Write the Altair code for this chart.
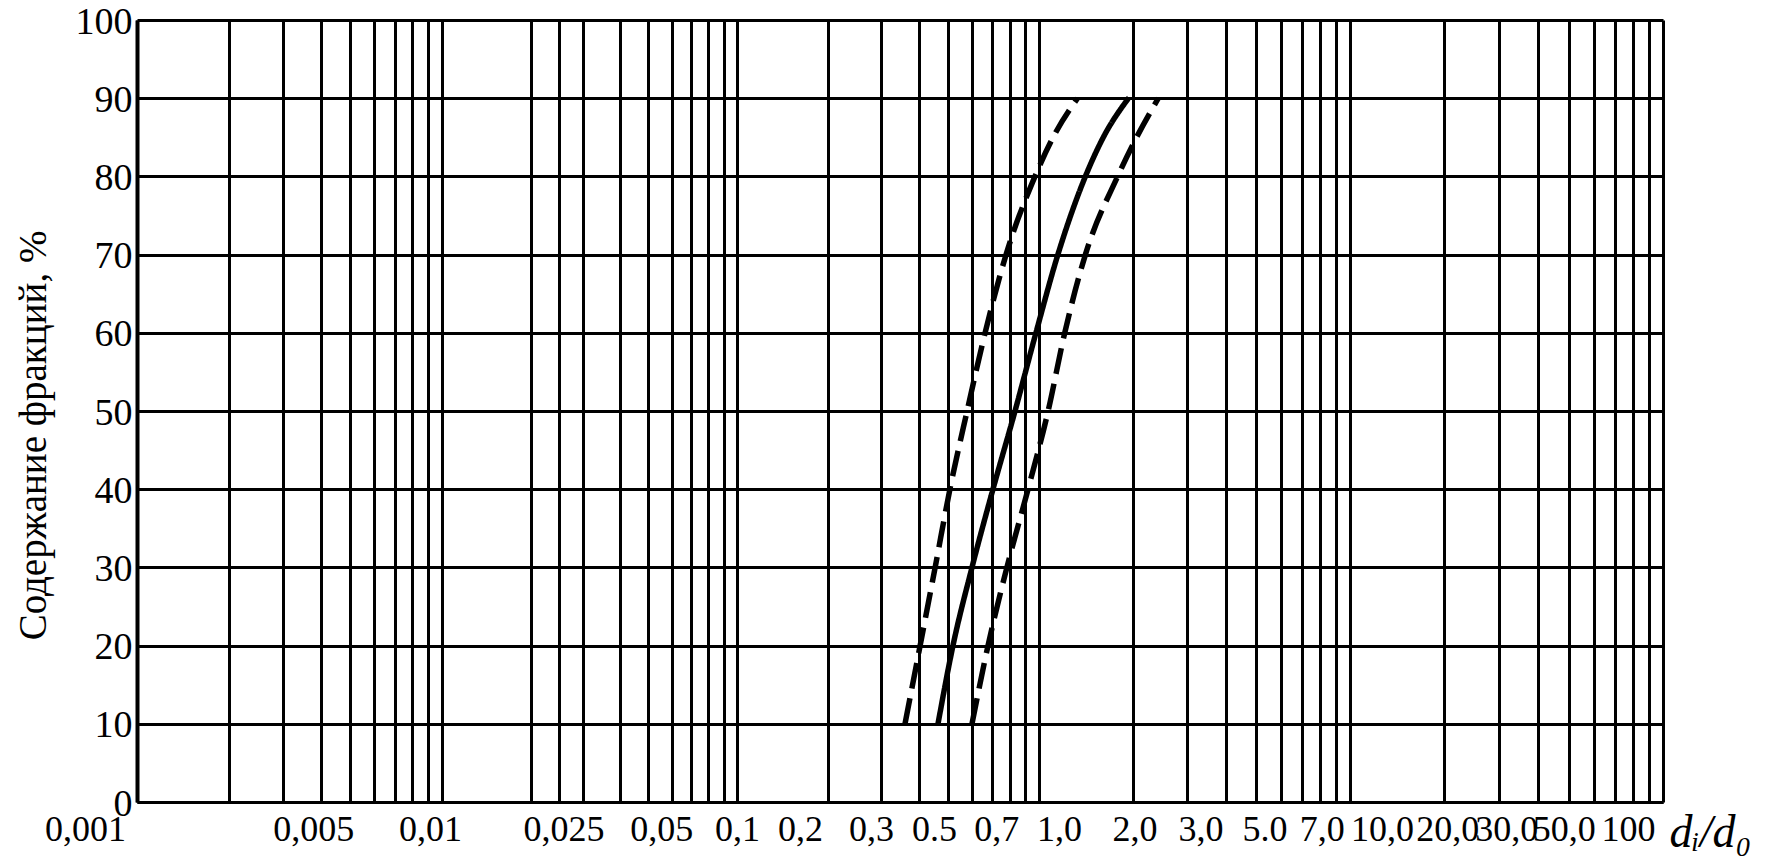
import altair as alt
import pandas as pd

# ---- data ----
pct_levels = [10, 20, 30, 40, 50, 60, 70, 80, 85, 90]
left_dashed = [0.36, 0.404, 0.453, 0.507, 0.578, 0.663, 0.778, 0.97, 1.11, 1.33]
middle_solid = [0.463, 0.519, 0.600, 0.704, 0.833, 0.977, 1.15, 1.41, 1.61, 1.94]
right_dashed = [0.60, 0.678, 0.783, 0.92, 1.07, 1.21, 1.41, 1.79, 2.06, 2.42]

x_grid_values = [
    0.001, 0.002, 0.003, 0.004, 0.005, 0.006, 0.007, 0.008, 0.009,
    0.01, 0.02, 0.025, 0.03, 0.04, 0.05, 0.06, 0.07, 0.08, 0.09,
    0.1, 0.2, 0.3, 0.4, 0.5, 0.6, 0.7, 0.8, 0.9,
    1, 2, 3, 4, 5, 6, 7, 8, 9,
    10, 20, 30, 40, 50, 60, 70, 80, 90, 100,
]
x_label_values = [0.001, 0.005, 0.01, 0.025, 0.05, 0.1, 0.2, 0.3, 0.5, 0.7,
                  1, 2, 3, 5, 7, 10, 20, 30, 50, 100]
x_label_texts = ["0,001", "0,005", "0,01", "0,025", "0,05", "0,1", "0,2", "0,3",
                 "0.5", "0,7", "1,0", "2,0", "3,0", "5.0", "7,0", "10,0",
                 "20,0", "30,0", "50,0", "100"]
# horizontal shift of each printed label relative to its grid line (style)
x_label_shifts = [-52, -37, -12, 4, 13, 0, -28, -10, -14, 4,
                  20, 2, 13, 8, 20, 32, 3, 7, -5, -35]
y_values = [0, 10, 20, 30, 40, 50, 60, 70, 80, 90, 100]

# decade boundaries of the (slightly uneven) printed log grid
decade_values = [0.001, 0.01, 0.1, 1, 10, 100]
decade_range = [0, 305, 600, 902, 1213, 1526]

y_title = "Содержание фракций, %"
x_title = "dᵢ/d₀"

rows = []
for name, dash, xs in [("left", "dashed", left_dashed),
                       ("middle", "solid", middle_solid),
                       ("right", "dashed", right_dashed)]:
    for p, v in zip(pct_levels, xs):
        rows.append({"series": name, "dash": dash, "x": v, "pct": p})
df = pd.DataFrame(rows)

vals_js = "[" + ",".join(repr(v) for v in x_label_values) + "]"
labs_js = "[" + ",".join("'" + t + "'" for t in x_label_texts) + "]"
label_expr = (f"indexof({vals_js}, datum.value) >= 0 ? "
              f"{labs_js}[indexof({vals_js}, datum.value)] : ''")

offset_conditions = [
    {"test": f"datum.value == {repr(v)}", "value": s}
    for v, s in zip(x_label_values, x_label_shifts)
]

FONT = "Liberation Serif"

x_axis = alt.Axis(
    values=x_grid_values,
    labelExpr=label_expr,
    labelOverlap=False,
    labelFlush=False,
    labelFont=FONT,
    labelFontSize=36,
    labelColor="black",
    labelPadding=10,
    labelOffset={"condition": offset_conditions, "value": 0},
    ticks=False,
    grid=True,
    gridColor="black",
    gridWidth=3,
    gridOpacity=1,
    domain=True,
    domainColor="black",
    domainWidth=3,
    title=x_title,
    titleFont=FONT,
    titleFontSize=46,
    titleFontStyle="italic",
    titleFontWeight="normal",
    titleColor="black",
    titleX=1532,
    titleY=44,
    titleAlign="left",
    titleBaseline="alphabetic",
)

y_axis = alt.Axis(
    values=y_values,
    labelFont=FONT,
    labelFontSize=38,
    labelColor="black",
    labelPadding=5,
    labelOffset=2,
    ticks=False,
    grid=True,
    gridColor="black",
    gridWidth=3,
    gridOpacity=1,
    domain=True,
    domainColor="black",
    domainWidth=4,
    title=y_title,
    titleFont=FONT,
    titleFontSize=39,
    titleFontWeight="normal",
    titleColor="black",
    titleAngle=270,
    titleX=-104,
    titleY=415,
    titleAlign="center",
    titleBaseline="middle",
)

chart = alt.Chart(df).mark_line(strokeWidth=5.5, color="black", interpolate="monotone").encode(
    x=alt.X("x:Q",
            scale=alt.Scale(type="log", domain=decade_values, range=decade_range, nice=False),
            axis=x_axis),
    y=alt.Y("pct:Q", scale=alt.Scale(domain=[0, 100], nice=False), axis=y_axis),
    detail="series:N",
    order="pct:Q",
    strokeDash=alt.StrokeDash(
        "dash:N",
        scale=alt.Scale(domain=["solid", "dashed"], range=[[1, 0], [26, 10]]),
        legend=None,
    ),
).properties(
    width=1526,
    height=782,
    autosize=alt.AutoSizeParams(type="none"),
    padding={"left": 129, "top": 12, "right": 100, "bottom": 55},
    background="white",
).configure_view(strokeWidth=0)

chart.save("out.html", embed_options={"renderer": "svg", "actions": False})
